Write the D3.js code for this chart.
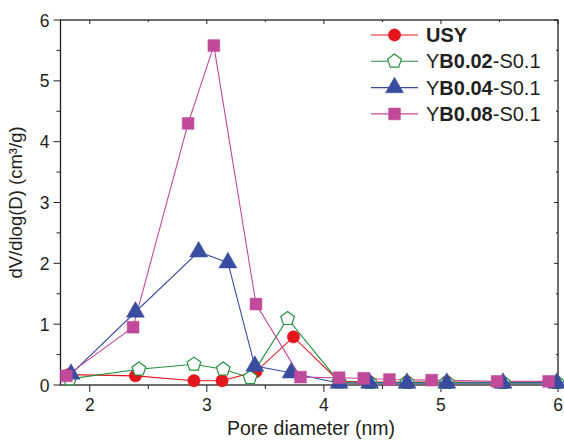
<!DOCTYPE html>
<html><head><meta charset="utf-8">
<script src="https://cdn.jsdelivr.net/npm/d3@7"></script>
<style>body{margin:0;background:#fff}svg text{font-family:"Liberation Sans",Arial,sans-serif;fill:#231f20}</style>
</head><body><svg id="c" width="564" height="441"></svg>
<script>
const xTicks = [2, 3, 4, 5, 6];
const yTicks = [0, 1, 2, 3, 4, 5, 6];
const usyX = [1.82, 2.39, 2.89, 3.13, 3.42, 3.74, 4.13, 4.39, 4.71, 5.05, 5.53, 5.99];
const usyY = [0.17, 0.15, 0.07, 0.07, 0.22, 0.79, 0.06, 0.05, 0.05, 0.05, 0.04, 0.04];
const b02X = [1.83, 2.42, 2.89, 3.14, 3.37, 3.69, 4.13, 4.39, 4.71, 5.05, 5.53, 5.99];
const b02Y = [0.10, 0.26, 0.34, 0.26, 0.12, 1.09, 0.05, 0.04, 0.04, 0.04, 0.04, 0.04];
const b04X = [1.84, 2.39, 2.93, 3.18, 3.41, 3.72, 4.13, 4.39, 4.71, 5.05, 5.53, 5.99];
const b04Y = [0.18, 1.20, 2.19, 2.01, 0.31, 0.20, 0.03, 0.03, 0.03, 0.03, 0.03, 0.03];
const b08X = [1.80, 2.37, 2.84, 3.06, 3.42, 3.80, 4.13, 4.34, 4.56, 4.92, 5.48, 5.92];
const b08Y = [0.15, 0.95, 4.30, 5.58, 1.33, 0.13, 0.12, 0.11, 0.09, 0.08, 0.06, 0.06];
const seriesNames = [["USY"], ["Y", "B0.02", "-S0.1"], ["Y", "B0.04", "-S0.1"], ["Y", "B0.08", "-S0.1"]];

const L = 60.5, R = 558, T = 20, B = 385;
const svg = d3.select("#c");
const x = d3.scaleLinear().domain([1.75, 6]).range([L, R]);
const y = d3.scaleLinear().domain([0, 6]).range([B, T]);

const series = [
  {xs: usyX, ys: usyY, color: "#e3151d", sym: d3.symbolCircle, size: 120, fill: true},
  {xs: b02X, ys: b02Y, color: "#23913f", sym: "pent", size: 7.2, fill: false},
  {xs: b04X, ys: b04Y, color: "#3a4ca0", sym: d3.symbolTriangle, size: 140, fill: true},
  {xs: b08X, ys: b08Y, color: "#c14a9b", sym: d3.symbolSquare, size: 140, fill: true}
];

function pentPath(r) {
  const pts = d3.range(5).map(i => {
    const a = -Math.PI / 2 + i * 2 * Math.PI / 5;
    return [r * Math.cos(a), r * Math.sin(a)];
  });
  return "M" + pts.map(p => p.join(",")).join("L") + "Z";
}
function marker(g, s, cx, cy) {
  const p = s.sym === "pent" ? pentPath(s.size) : d3.symbol().type(s.sym).size(s.size)();
  g.append("path").attr("d", p).attr("transform", `translate(${cx},${cy})`)
    .attr("fill", s.fill ? s.color : "#fff").attr("stroke", s.color)
    .attr("stroke-width", s.fill ? 0.5 : 1.2);
}

// axes
const ax = svg.append("g").attr("stroke", "#231f20").attr("fill", "none");
ax.append("rect").attr("x", L).attr("y", T).attr("width", R - L).attr("height", B - T).attr("stroke-width", 1.3);
const xMinor = d3.range(2.5, 6, 1);
xTicks.forEach(v => {
  ax.append("line").attr("x1", x(v)).attr("x2", x(v)).attr("y1", B).attr("y2", B + 7);
  ax.append("line").attr("x1", x(v)).attr("x2", x(v)).attr("y1", T).attr("y2", T + 4);
});
xMinor.forEach(v => {
  ax.append("line").attr("x1", x(v)).attr("x2", x(v)).attr("y1", B).attr("y2", B + 4);
  ax.append("line").attr("x1", x(v)).attr("x2", x(v)).attr("y1", T).attr("y2", T + 2);
});
const yMinor = d3.range(0.5, 6, 1);
yTicks.forEach(v => {
  ax.append("line").attr("x1", L - 7).attr("x2", L).attr("y1", y(v)).attr("y2", y(v));
  ax.append("line").attr("x1", R - 4).attr("x2", R).attr("y1", y(v)).attr("y2", y(v));
});
yMinor.forEach(v => {
  ax.append("line").attr("x1", L - 4).attr("x2", L).attr("y1", y(v)).attr("y2", y(v));
  ax.append("line").attr("x1", R - 2).attr("x2", R).attr("y1", y(v)).attr("y2", y(v));
});
xTicks.forEach(v => svg.append("text").attr("x", x(v)).attr("y", B + 26).attr("text-anchor", "middle").attr("font-size", 17.5).text(v));
yTicks.forEach(v => svg.append("text").attr("x", L - 11).attr("y", y(v) + 6.5).attr("text-anchor", "end").attr("font-size", 17.5).text(v));
svg.append("text").attr("x", 311).attr("y", 435).attr("text-anchor", "middle").attr("font-size", 19.5).text("Pore diameter (nm)");
svg.append("text").attr("transform", `translate(22,${(T + B) / 2}) rotate(-90)`).attr("text-anchor", "middle").attr("font-size", 18.5).text("dV/dlog(D) (cm³/g)");

// lines
const line = d3.line().x(d => x(d[0])).y(d => y(d[1]));
series.forEach(s => {
  const pts = s.xs.map((v, i) => [v, s.ys[i]]);
  svg.append("path").attr("d", line(pts)).attr("fill", "none").attr("stroke", s.color).attr("stroke-width", 1.1);
});
series.forEach(s => {
  const g = svg.append("g");
  s.xs.forEach((v, i) => marker(g, s, x(v), y(s.ys[i])));
});

// legend
const lx1 = 371, lx2 = 418, ly0 = 35, dy = 26.3;
series.forEach((s, i) => {
  const yy = ly0 + i * dy;
  svg.append("line").attr("x1", lx1).attr("x2", lx2).attr("y1", yy).attr("y2", yy).attr("stroke", s.color).attr("stroke-width", 1.1);
  marker(svg, s, (lx1 + lx2) / 2, yy);
  const t = svg.append("text").attr("x", 426).attr("y", yy + 7).attr("font-size", 20);
  seriesNames[i].forEach((part, j) => {
    const bold = (i === 0) || (j === 1);
    t.append("tspan").attr("font-weight", bold ? "bold" : "normal").text(part);
  });
});
</script></body></html>
